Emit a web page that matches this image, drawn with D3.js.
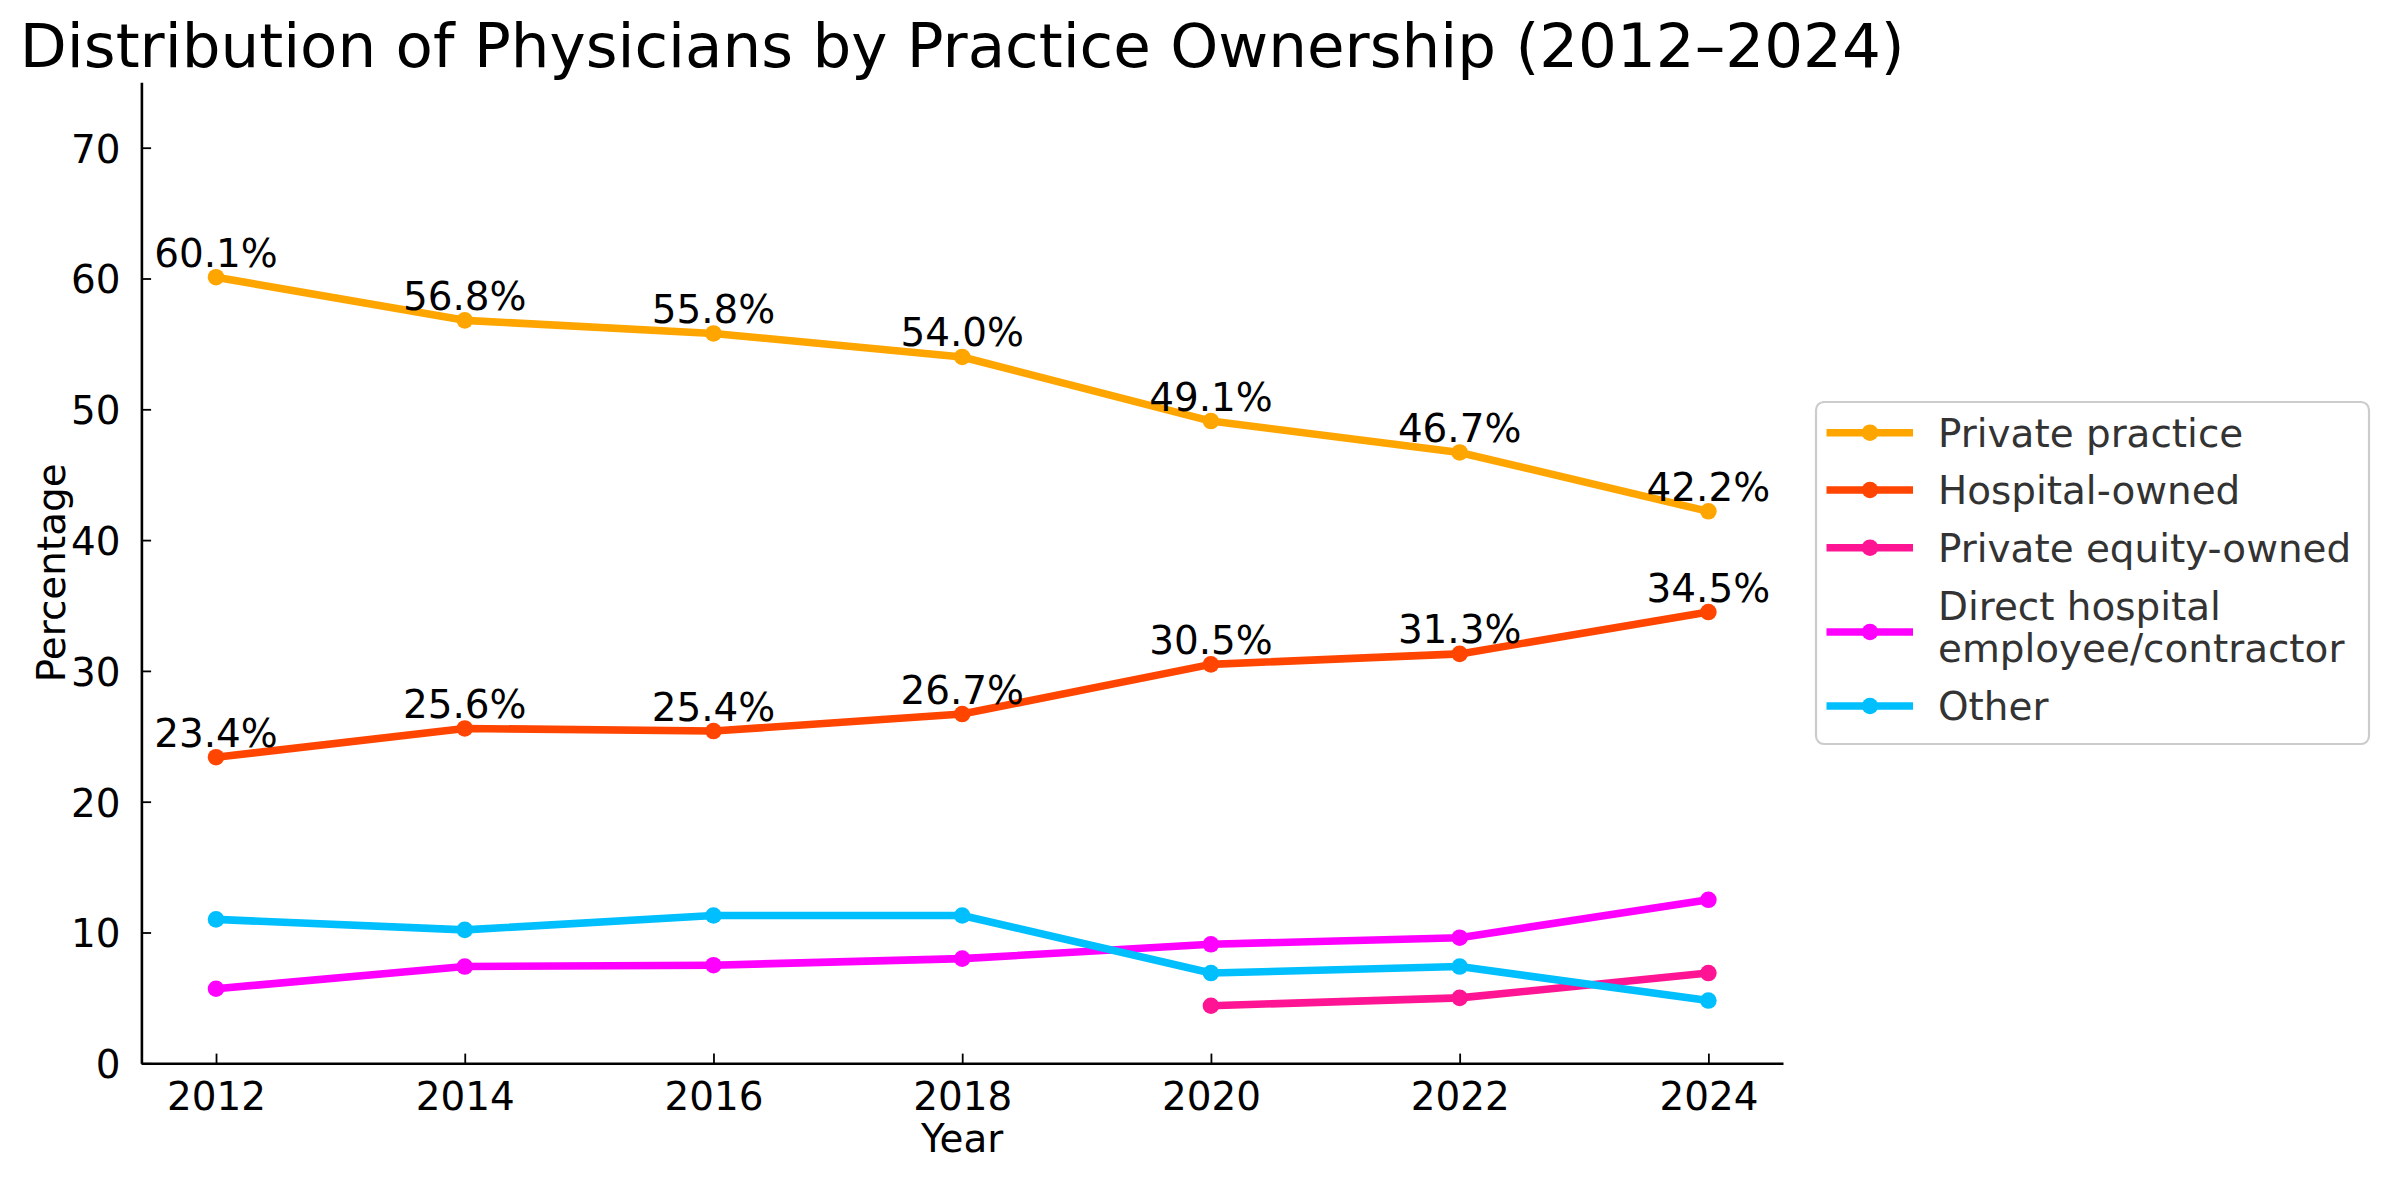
<!DOCTYPE html>
<html>
<head>
<meta charset="utf-8">
<script src="https://cdn.jsdelivr.net/npm/d3@7"></script>
<style>
  html, body { margin: 0; padding: 0; background: #ffffff; }
  svg { display: block; font-family: "DejaVu Sans", sans-serif; }
</style>
</head>
<body>
<svg id="chart" width="2388" height="1180"></svg>
<script>
// ---- data ----
const years = [2012, 2014, 2016, 2018, 2020, 2022, 2024];
const privatePractice = [60.1, 56.8, 55.8, 54.0, 49.1, 46.7, 42.2];
const hospitalOwned = [23.4, 25.6, 25.4, 26.7, 30.5, 31.3, 34.5];
const privateEquityOwned = [null, null, null, null, 4.4, 5.0, 6.9];
const directHospital = [5.7, 7.4, 7.5, 8.0, 9.1, 9.6, 12.5];
const other = [11.0, 10.2, 11.3, 11.3, 6.9, 7.4, 4.8];
const seriesNames = ["Private practice", "Hospital-owned", "Private equity-owned", "Direct hospital employee/contractor", "Other"];
const legendLines = [["Private practice"], ["Hospital-owned"], ["Private equity-owned"], ["Direct hospital", "employee/contractor"], ["Other"]];
const seriesColors = ["#FFA500", "#FF4500", "#FF1493", "#FF00FF", "#00BFFF"];
const labelledSeries = [0, 1];
const yTicks = [0, 10, 20, 30, 40, 50, 60, 70];
const xTicks = years;
const titleText = "Distribution of Physicians by Practice Ownership (2012\u20132024)";
const xLabel = "Year";
const yLabel = "Percentage";

const allSeries = [privatePractice, hospitalOwned, privateEquityOwned, directHospital, other];

// ---- layout ----
const svg = d3.select("#chart");
const plot = { left: 141.4, right: 1783, top: 82.3, bottom: 1063.3 };
const fs = 38.9;   // 14pt @200dpi
const titleFs = 61.1;

const x = d3.scaleLinear().domain([2011.4, 2024.6]).range([plot.left, plot.right]);
const y = d3.scaleLinear().domain([0, 75]).range([plot.bottom, plot.top]);

// title
svg.append("text")
  .attr("x", (plot.left + plot.right) / 2)
  .attr("y", 66.7)
  .attr("text-anchor", "middle")
  .attr("font-size", titleFs)
  .attr("fill", "#000")
  .text(titleText);

// axes
const xAxis = d3.axisBottom(x).tickValues(xTicks).tickFormat(d3.format("d"))
  .tickSizeInner(-9.7).tickSizeOuter(0).tickPadding(19);
const yAxis = d3.axisLeft(y).tickValues(yTicks).tickFormat(d3.format("d"))
  .tickSizeInner(-9.7).tickSizeOuter(0).tickPadding(21);

const gx = svg.append("g").attr("transform", `translate(0,${plot.bottom})`).call(xAxis);
const gy = svg.append("g").attr("transform", `translate(${plot.left},0)`).call(yAxis);

[gx, gy].forEach(g => {
  g.selectAll("text").attr("font-size", fs).attr("fill", "#000").attr("font-family", "DejaVu Sans");
  g.selectAll(".tick line").attr("stroke", "#000").attr("stroke-width", 1.8);
  g.select(".domain").attr("stroke", "#000").attr("stroke-width", 2.6);
});
gx.selectAll("text").attr("dy", "0.71em");
gy.selectAll("text").attr("dy", "0.37em");

// axis labels
svg.append("text")
  .attr("x", (plot.left + plot.right) / 2)
  .attr("y", 1151.7)
  .attr("text-anchor", "middle")
  .attr("font-size", fs)
  .attr("fill", "#000")
  .text(xLabel);

svg.append("text")
  .attr("transform", `translate(65,${(plot.top + plot.bottom) / 2}) rotate(-90)`)
  .attr("text-anchor", "middle")
  .attr("font-size", fs)
  .attr("fill", "#000")
  .text(yLabel);

// lines
const line = d3.line()
  .defined(d => d.v !== null)
  .x(d => x(d.year))
  .y(d => y(d.v));

const lw = 7.6, mr = 8.3;

allSeries.forEach((vals, i) => {
  const pts = years.map((yr, j) => ({ year: yr, v: vals[j] }));
  const g = svg.append("g");
  g.append("path")
    .datum(pts)
    .attr("d", line)
    .attr("fill", "none")
    .attr("stroke", seriesColors[i])
    .attr("stroke-width", lw)
    .attr("stroke-linejoin", "round")
    .attr("stroke-linecap", "butt");
  g.selectAll("circle")
    .data(pts.filter(d => d.v !== null))
    .join("circle")
    .attr("cx", d => x(d.year))
    .attr("cy", d => y(d.v))
    .attr("r", mr)
    .attr("fill", seriesColors[i]);
});

// value labels
labelledSeries.forEach(i => {
  const vals = allSeries[i];
  svg.append("g").selectAll("text")
    .data(years.map((yr, j) => ({ year: yr, v: vals[j] })).filter(d => d.v !== null))
    .join("text")
    .attr("x", d => x(d.year))
    .attr("y", d => y(d.v) - 10.5)
    .attr("text-anchor", "middle")
    .attr("font-size", fs)
    .attr("fill", "#000")
    .text(d => d.v.toFixed(1) + "%");
});

// legend
const leg = svg.append("g");
leg.append("rect")
  .attr("x", 1816).attr("y", 402)
  .attr("width", 2369 - 1816).attr("height", 744 - 402)
  .attr("rx", 8).attr("ry", 8)
  .attr("fill", "#ffffff").attr("fill-opacity", 0.8)
  .attr("stroke", "#cccccc").attr("stroke-width", 2.2);

const rowBase = [446.7, 504, 561.7, 620, 720];
const lineGap = 42;
legendLines.forEach((lines, i) => {
  const b = rowBase[i];
  const hy = lines.length === 1 ? b - 14 : b + lineGap / 2 - 9;
  leg.append("line")
    .attr("x1", 1826.5).attr("x2", 1913)
    .attr("y1", hy).attr("y2", hy)
    .attr("stroke", seriesColors[i]).attr("stroke-width", lw);
  leg.append("circle")
    .attr("cx", 1870).attr("cy", hy).attr("r", mr)
    .attr("fill", seriesColors[i]);
  const t = leg.append("text")
    .attr("x", 1938).attr("y", b)
    .attr("font-size", fs)
    .attr("fill", "#333333");
  lines.forEach((ln, k) => {
    t.append("tspan").attr("x", 1938).attr("y", b + k * lineGap).text(ln);
  });
});
</script>
</body>
</html>
